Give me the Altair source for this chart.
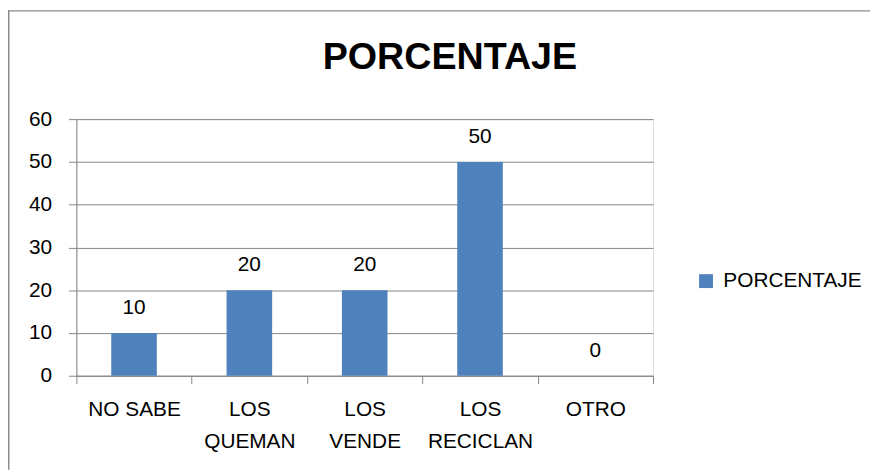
import altair as alt
import pandas as pd

categories = ["NO SABE", "LOS QUEMAN", "LOS VENDE", "LOS RECICLAN", "OTRO"]
values = [10, 20, 20, 50, 0]
series_name = "PORCENTAJE"
y_ticks = [0, 10, 20, 30, 40, 50, 60]
chart_title = "PORCENTAJE"

df = pd.DataFrame({"cat": categories, "val": values, "serie": [series_name] * len(categories)})

FONT = "Liberation Sans"
GRID = "#868686"
BLUE = "#4F81BD"
FS = 21

W, H = 582, 259
PAD_L, PAD_T = 69, 110
PAD_R = 870 - PAD_L - W
PAD_B = 464 - PAD_T - H

x_enc = alt.X(
    "cat:N", sort=categories, title=None,
    scale=alt.Scale(paddingInner=0, paddingOuter=0),
    axis=alt.Axis(
        labelAngle=0, tickBand="extent",
        labelExpr="indexof(datum.label, 'LOS ') == 0 ? split(datum.label, ' ') : datum.label",
        labelLineHeight=32, labelPadding=15, tickSize=8,
        tickColor=GRID, domainColor=GRID, labelFont=FONT, labelFontSize=FS,
        labelColor="black", grid=False,
    ),
)
y_enc = alt.Y(
    "val:Q", title=None, scale=alt.Scale(domain=[0, 60], nice=False),
    axis=alt.Axis(
        values=y_ticks, grid=True, gridColor=GRID, gridWidth=1, tickSize=8,
        tickColor=GRID, domainColor=GRID, labelPadding=17, labelFont=FONT,
        labelFontSize=FS, labelColor="black",
    ),
)

bars = alt.Chart(df).mark_bar(size=46).encode(
    x=x_enc, y=y_enc,
    color=alt.Color(
        "serie:N", scale=alt.Scale(range=[BLUE]),
        legend=alt.Legend(
            title=None, orient="none", legendX=625, legendY=153,
            symbolType="square", symbolSize=196, symbolStrokeWidth=0,
            labelFont=FONT, labelFontSize=FS, labelColor="black",
            labelOffset=7, padding=0,
        ),
    ),
)

labels = alt.Chart(df).mark_text(
    baseline="alphabetic", dy=-19, fontSize=FS, font=FONT, color="black"
).encode(
    x=alt.X("cat:N", sort=categories),
    y=alt.Y("val:Q"),
    text=alt.Text("val:Q"),
)

frame = pd.DataFrame({"k": [0]})
top_border = alt.Chart(frame).mark_rule(color="#8c8c8c", strokeWidth=1.5).encode(
    x=alt.value(-PAD_L), x2=alt.value(W + PAD_R), y=alt.value(-PAD_T + 0.75)
)
left_border = alt.Chart(frame).mark_rule(color="#8c8c8c", strokeWidth=1.5).encode(
    x=alt.value(-PAD_L + 0.75), y=alt.value(-PAD_T), y2=alt.value(H + PAD_B)
)

chart = alt.layer(bars, labels, top_border, left_border).properties(
    width=W, height=H,
    title=alt.TitleParams(
        chart_title, font=FONT, fontSize=38, fontWeight="bold", color="black",
        anchor="middle", dx=86, baseline="alphabetic", offset=-98,
    ),
    autosize=alt.AutoSizeParams(type="none"),
    padding={"left": PAD_L, "top": PAD_T, "right": PAD_R, "bottom": PAD_B},
).configure_view(stroke=None).configure(background="white")

chart.save("out.html", embed_options={"renderer": "svg", "actions": False})
